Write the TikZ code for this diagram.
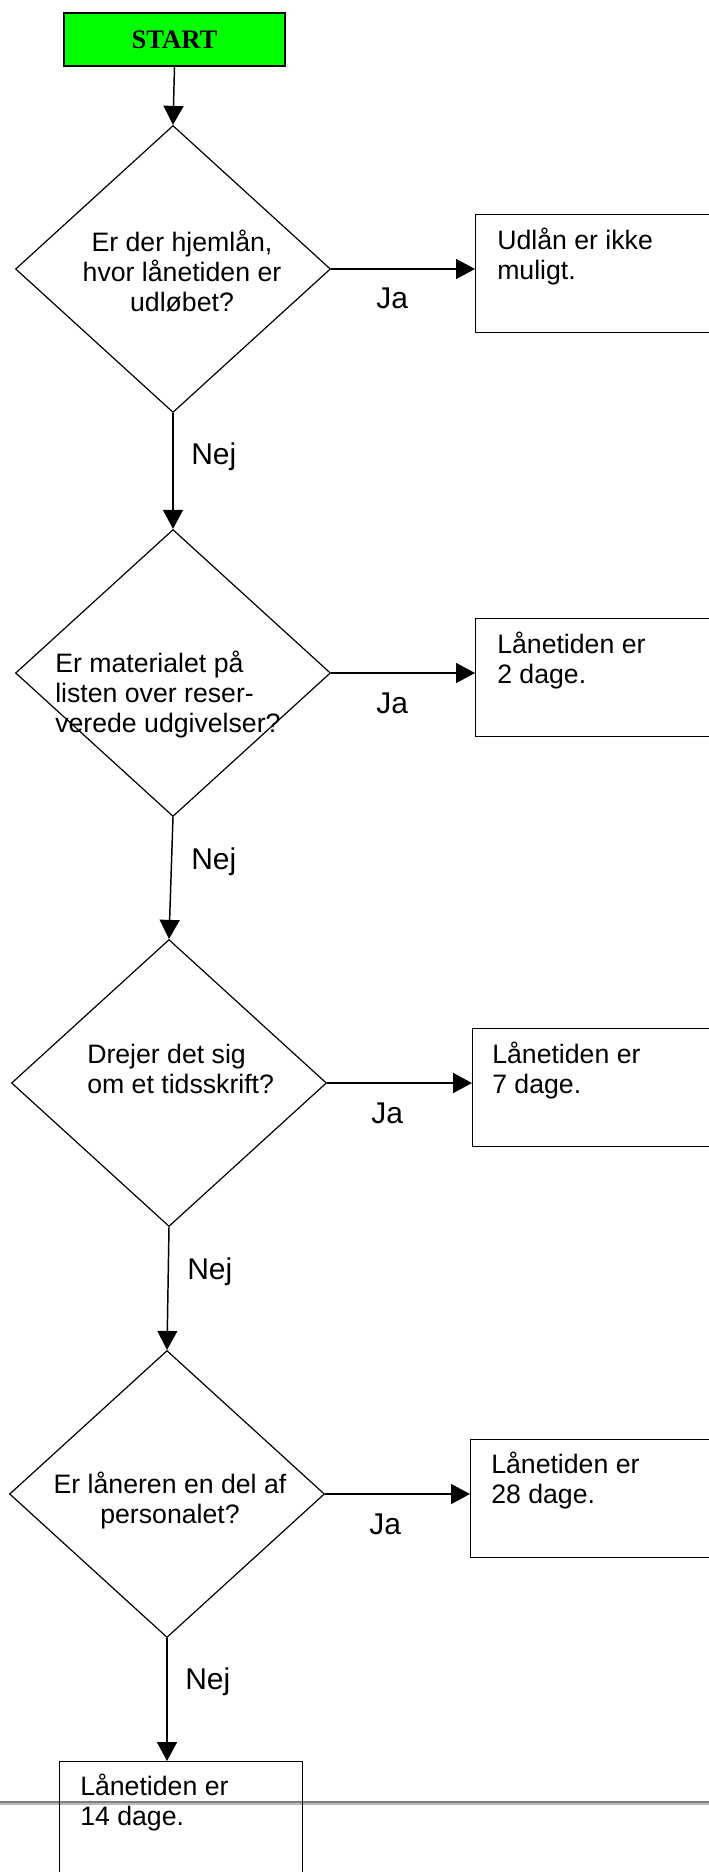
\documentclass[tikz,border=0pt]{standalone}
\usepackage{fontspec}
\setmainfont{Liberation Sans}
\newfontfamily\startfont{Liberation Serif}
\usetikzlibrary{shapes.geometric}
\usetikzlibrary{arrows.meta}
\newcommand{\cstack}[1]{\vtop{\halign{\hfil##\hfil\cr#1\crcr}}}
\newcommand{\lstack}[1]{\vtop{\halign{##\hfil\cr#1\crcr}}}

\begin{document}
\begin{tikzpicture}[x=0.75pt,y=0.75pt,yscale=-1,xscale=1,
  decision/.style={draw, line width=0.9pt, shape=diamond, inner sep=0pt, minimum width=236.25pt, minimum height=215.25pt},
  outcome/.style={draw, line width=1.1pt, rectangle, inner sep=0pt, minimum width=182.25pt, minimum height=88.5pt, anchor=north west},
  txt/.style={inner sep=0pt, font=\fontsize{20}{22.5}\selectfont},
  yesno/.style={inner sep=0pt, anchor=base west, font=\fontsize{22.5}{27}\selectfont},
  flow/.style={line width=1.1pt, -{Triangle[length=14.25pt,width=15pt]}}]
\useasboundingbox (0,0) rectangle (709,1872);
\clip (0,0) rectangle (709,1872);

%Straight Lines: page rule
\draw [color={rgb, 255:red, 128; green, 128; blue, 128 }, line width=1.5pt] (0,1801.5) -- (709,1801.5);
\draw [color={rgb, 255:red, 185; green, 185; blue, 185 }, line width=1.1pt] (0,1804) -- (709,1804);

%Shape: Rectangle
\node [draw, fill=green, line width=1.1pt, minimum width=165.75pt, minimum height=39.75pt, inner sep=0pt, font=\startfont\bfseries\fontsize{20}{24}\selectfont] (start) at (174.5,39.5) {START};

%Shape: Diamond
\node [decision] (d1) at (173,269) {};
\node [decision] (d2) at (173,673) {};
\node [decision] (d3) at (169,1083) {};
\node [decision] (d4) at (167,1494) {};

%Shape: Rectangle
\node [outcome] (b1) at (475,214) {};
\node [outcome] (b2) at (475,618) {};
\node [outcome] (b3) at (472,1028) {};
\node [outcome] (b4) at (470,1439) {};
\node [outcome] (b5) at (59,1761) {};

%Straight Lines
\draw [flow] (start.south) -- (d1.north);
\draw [flow] (d1.south) -- (d2.north);
\draw [flow] (d2.south) -- (d3.north);
\draw [flow] (d3.south) -- (d4.north);
\draw [flow] (d4.south) -- (d4.south |- b5.north);
\draw [flow] (d1.east) -- (d1.east -| b1.west);
\draw [flow] (d2.east) -- (d2.east -| b2.west);
\draw [flow] (d3.east) -- (d3.east -| b3.west);
\draw [flow] (d4.east) -- (d4.east -| b4.west);

% Text Node
\node [txt, anchor=base] (q1) at (182,252) {\cstack{Er der hjemlån,\cr hvor lånetiden er\cr udløbet?}};
% Text Node
\node [txt, anchor=base west] (q2) at (55,672) {\lstack{Er materialet på\cr listen over reser-\cr verede udgivelser?}};
% Text Node
\node [txt, anchor=base west] (q3) at (87,1063) {\lstack{Drejer det sig\cr om et tidsskrift?}};
% Text Node
\node [txt, anchor=base] (q4) at (170,1493) {\cstack{Er låneren en del af\cr personalet?}};

% Text Node
\node [txt, anchor=base west] (r1) at (497,250) {\lstack{Udlån er ikke\cr muligt.}};
% Text Node
\node [txt, anchor=base west] (r2) at (497,653) {\lstack{Lånetiden er\cr 2 dage.}};
% Text Node
\node [txt, anchor=base west] (r3) at (492,1063) {\lstack{Lånetiden er\cr 7 dage.}};
% Text Node
\node [txt, anchor=base west] (r4) at (491,1473) {\lstack{Lånetiden er\cr 28 dage.}};
% Text Node
\node [txt, anchor=base west] (r5) at (80,1795) {\lstack{Lånetiden er\cr 14 dage.}};

% Text Node
\node [yesno] (ja1) at (376,309) {Ja};
\node [yesno] (ja2) at (376,713) {Ja};
\node [yesno] (ja3) at (371,1123) {Ja};
\node [yesno] (ja4) at (369,1534) {Ja};
% Text Node
\node [yesno] (nej1) at (191,464) {Nej};
\node [yesno] (nej2) at (191,869) {Nej};
\node [yesno] (nej3) at (187,1279) {Nej};
\node [yesno] (nej4) at (185,1689) {Nej};

\end{tikzpicture}
\end{document}
